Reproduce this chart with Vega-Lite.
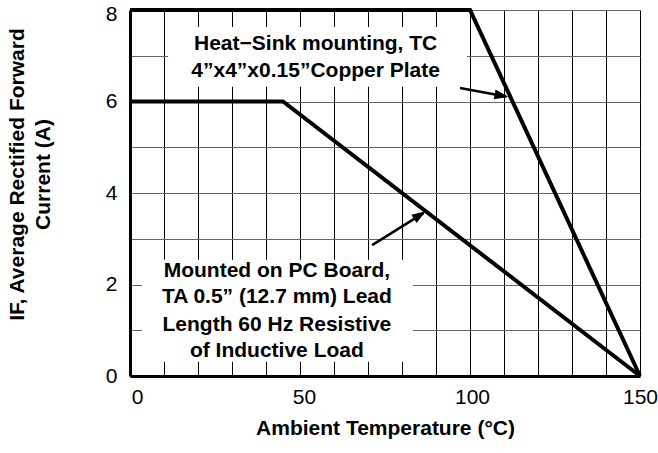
{
  "$schema": "https://vega.github.io/schema/vega-lite/v6.json",
  "width": 510,
  "height": 366,
  "autosize": {"type": "none"},
  "padding": {"left": 130, "top": 10, "right": 18, "bottom": 77},
  "background": "white",
  "config": {"view": {"stroke": null}, "font": "Liberation Sans"},
  "datasets": {
    "boxes": [
      {"x": 11.2, "x2": 99.1, "y": 7.63, "y2": 6.32},
      {"x": 3.5, "x2": 83.2, "y": 2.54, "y2": 0.31}
    ],
    "curves": [
      {"s": "PC Board", "x": 0, "y": 6},
      {"s": "PC Board", "x": 45, "y": 6},
      {"s": "PC Board", "x": 150, "y": 0},
      {"s": "Heat-Sink", "x": 0, "y": 8},
      {"s": "Heat-Sink", "x": 100, "y": 8},
      {"s": "Heat-Sink", "x": 150, "y": 0}
    ],
    "arrows": [
      {"a": "Heat-Sink", "x": 97.06, "y": 6.295},
      {"a": "Heat-Sink", "x": 110.6, "y": 6.11},
      {"a": "PC Board", "x": 71.2, "y": 2.86},
      {"a": "PC Board", "x": 86.3, "y": 3.56}
    ],
    "headHS": [{"x": 111.3, "y": 6.10}],
    "headPC": [{"x": 87.0, "y": 3.60}],
    "labels": [
      {"x": 54.6, "y": 7.13, "text": "Heat−Sink mounting, TC"},
      {"x": 54.6, "y": 6.54, "text": "4”x4”x0.15”Copper Plate"},
      {"x": 43.2, "y": 2.17, "text": "Mounted on PC Board,"},
      {"x": 43.2, "y": 1.60, "text": "TA 0.5” (12.7 mm) Lead"},
      {"x": 43.2, "y": 0.98, "text": "Length 60 Hz Resistive"},
      {"x": 43.2, "y": 0.42, "text": "of Inductive Load"}
    ]
  },
  "encoding": {
    "x": {
      "field": "x",
      "type": "quantitative",
      "scale": {"domain": [0, 150], "nice": false, "zero": false},
      "axis": {
        "values": [0, 10, 20, 30, 40, 50, 60, 70, 80, 90, 100, 110, 120, 130, 140, 150],
        "labelExpr": "datum.value % 50 === 0 ? datum.label : ''",
        "grid": true,
        "gridColor": "#000000",
        "gridWidth": 1,
        "gridOpacity": 1,
        "ticks": false,
        "domainColor": "#000000",
        "domainWidth": 3,
        "labelFont": "Liberation Sans",
        "labelFontSize": 21,
        "labelColor": "#000000",
        "labelPadding": 10,
        "labelOffset": {
          "condition": [
            {"test": "datum.value === 0", "value": 7},
            {"test": "datum.value === 50", "value": 4},
            {"test": "datum.value === 100", "value": 2}
          ],
          "value": 0
        },
        "labelFlush": false,
        "title": "Ambient Temperature (°C)",
        "titleFont": "Liberation Sans",
        "titleFontSize": 21,
        "titleFontWeight": "bold",
        "titleColor": "#000000",
        "titlePadding": 10
      }
    },
    "y": {
      "field": "y",
      "type": "quantitative",
      "scale": {"domain": [0, 8], "nice": false},
      "axis": {
        "values": [0, 1, 2, 3, 4, 5, 6, 7, 8],
        "labelExpr": "datum.value % 2 === 0 ? datum.label : ''",
        "grid": true,
        "gridColor": "#666666",
        "gridWidth": 1,
        "gridOpacity": 1,
        "ticks": false,
        "domainColor": "#000000",
        "domainWidth": 3,
        "labelFont": "Liberation Sans",
        "labelFontSize": 21,
        "labelColor": "#000000",
        "labelPadding": 13,
        "labelOffset": {
          "condition": {"test": "datum.value === 8", "value": 4},
          "value": 0
        },
        "labelFlush": false,
        "title": ["IF, Average Rectified Forward", "Current (A)"],
        "titleFont": "Liberation Sans",
        "titleFontSize": 21,
        "titleFontWeight": "bold",
        "titleColor": "#000000",
        "titleLineHeight": 26,
        "titlePadding": 52,
        "titleY": 164
      }
    }
  },
  "layer": [
    {
      "data": {"name": "boxes"},
      "mark": {"type": "rect", "color": "white", "strokeWidth": 0},
      "encoding": {
        "x2": {"field": "x2"},
        "y2": {"field": "y2"}
      }
    },
    {
      "data": {"name": "curves"},
      "mark": {"type": "line", "color": "#000000", "strokeWidth": 4, "strokeJoin": "miter"},
      "encoding": {"detail": {"field": "s"}}
    },
    {
      "data": {"name": "arrows"},
      "mark": {"type": "line", "color": "#000000", "strokeWidth": 2.5},
      "encoding": {"detail": {"field": "a"}}
    },
    {
      "data": {"name": "headHS"},
      "mark": {"type": "point", "shape": "M0,0 L-2,-0.7 L-2,0.7 Z", "size": 196, "filled": true, "color": "#000000", "opacity": 1, "strokeWidth": 0, "angle": 10.4}
    },
    {
      "data": {"name": "headPC"},
      "mark": {"type": "point", "shape": "M0,0 L-2,-0.7 L-2,0.7 Z", "size": 196, "filled": true, "color": "#000000", "opacity": 1, "strokeWidth": 0, "angle": -32.3}
    },
    {
      "data": {"name": "labels"},
      "mark": {"type": "text", "font": "Liberation Sans", "fontSize": 21, "fontWeight": "bold", "color": "#000000", "align": "center", "baseline": "alphabetic"},
      "encoding": {"text": {"field": "text"}}
    }
  ]
}
